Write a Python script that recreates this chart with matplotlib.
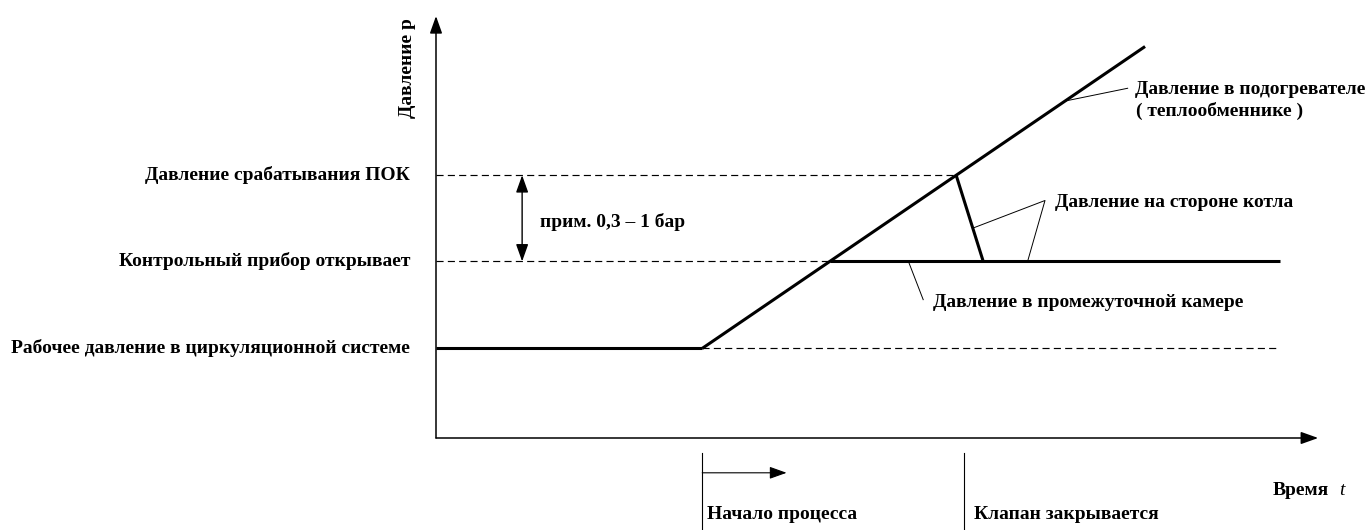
import numpy as np
import matplotlib
matplotlib.use("Agg")
import matplotlib.pyplot as plt

plt.rcParams["font.family"] = ["Liberation Serif", "DejaVu Serif"]

# --- schematic values (time t, pressure p in arbitrary units) ---
P_WORK = 1.03     # рабочее давление
P_OPEN = 2.03     # контрольный прибор открывает
P_SET = 3.02      # давление срабатывания ПОК
T_START = 3.06    # начало процесса
T_HEAT_END = 8.15
P_HEAT_END = 4.50
T_BOILER_END = 6.29
T_VALVE = 6.07    # клапан закрывается
T_LINE_END = 9.70
T_AXIS_END = 10.14
P_AXIS_END = 4.85

level_labels = ["Рабочее давление в циркуляционной системе",
                "Контрольный прибор открывает",
                "Давление срабатывания ПОК"]
level_values = [P_WORK, P_OPEN, P_SET]

# heater line and where it crosses the levels
heat_t = np.array([T_START, T_HEAT_END])
heat_p = np.array([P_WORK, P_HEAT_END])
t_open = np.interp(P_OPEN, heat_p, heat_t)
t_set = np.interp(P_SET, heat_p, heat_t)

# boiler side line (pressure drops after valve closes)
boil_t = np.array([t_set, T_BOILER_END])
boil_p = np.array([P_SET, P_OPEN])

PX = 87.0  # pixels per unit
fig = plt.figure(figsize=(13.68, 5.30), dpi=100)
ax = fig.add_axes([0, 0, 1, 1])
ax.set_xlim(-436 / PX, (1368 - 436) / PX)
ax.set_ylim(-92 / PX, 438 / PX)
ax.axis("off")

thick = dict(color="black", lw=2.2, solid_capstyle="butt")
dash = dict(color="black", lw=0.85, dashes=(6.0, 3.6))
thin = dict(color="black", lw=0.7)
head = "-|>,head_length=0.7,head_width=0.25"
fs = 14

# axes with arrows
ax.annotate("", xy=(0, P_AXIS_END), xytext=(0, 0),
            arrowprops=dict(arrowstyle=head, mutation_scale=15, color="black",
                            lw=1.1, shrinkA=0, shrinkB=0))
ax.annotate("", xy=(T_AXIS_END, 0), xytext=(0, 0),
            arrowprops=dict(arrowstyle=head, mutation_scale=15, color="black",
                            lw=1.1, shrinkA=0, shrinkB=0))

# pressure levels
ax.plot([0, T_START], [P_WORK, P_WORK], **thick)
ax.plot([T_START, T_LINE_END], [P_WORK, P_WORK], **dash)
ax.plot([0, t_open], [P_OPEN, P_OPEN], **dash)
ax.plot([t_open, T_LINE_END], [P_OPEN, P_OPEN], **thick)
ax.plot([0, t_set], [P_SET, P_SET], **dash)

# heater pressure and boiler side
ax.plot(heat_t, heat_p, **thick)
ax.plot(boil_t, boil_p, **thick)

for lbl, val in zip(level_labels, level_values):
    ax.text(-0.30, val, lbl, ha="right", va="center", fontsize=fs, fontweight="bold")

ax.text(-0.333, 4.25, "Давление р", rotation=90, ha="center", va="center",
        fontsize=fs, fontweight="bold")

# 0.3 - 1 bar range
ax.annotate("", xy=(0.99, P_SET), xytext=(0.99, P_OPEN),
            arrowprops=dict(arrowstyle="<|-|>,head_length=0.7,head_width=0.25",
                            mutation_scale=15, color="black", lw=1.0, shrinkA=0, shrinkB=0))
ax.text(1.20, 2.48, "прим. 0,3 – 1 бар", ha="left", va="center", fontsize=fs, fontweight="bold")

# leaders and annotations
t_lead = 7.23
ax.plot([t_lead, 7.95], [np.interp(t_lead, heat_t, heat_p), 4.02], **thin)
ax.text(8.03, 4.00, "Давление в подогревателе", ha="left", va="center", fontsize=fs, fontweight="bold")
ax.text(8.05, 3.76, "( теплообменнике )", ha="left", va="center", fontsize=fs, fontweight="bold")

b_t = 6.17
b_p = np.interp(b_t, boil_t, boil_p)
ax.plot([b_t, 7.0, 6.80], [b_p, 2.73, P_OPEN], **thin)
ax.text(7.11, 2.71, "Давление на стороне котла", ha="left", va="center", fontsize=fs, fontweight="bold")

ax.plot([5.43, 5.60], [P_OPEN, 1.59], **thin)
ax.text(5.71, 1.56, "Давление в промежуточной камере", ha="left", va="center",
        fontsize=fs, fontweight="bold")

# bottom markers
ax.plot([T_START, T_START], [-0.17, -1.2], color="black", lw=0.8)
ax.plot([T_VALVE, T_VALVE], [-0.17, -1.2], color="black", lw=0.8)
ax.annotate("", xy=(4.03, -0.40), xytext=(T_START, -0.40),
            arrowprops=dict(arrowstyle=head, mutation_scale=15, color="black",
                            lw=0.8, shrinkA=0, shrinkB=0))
ax.text(3.11, -0.885, "Начало процесса", ha="left", va="center", fontsize=fs, fontweight="bold")
ax.text(6.18, -0.885, "Клапан закрывается", ha="left", va="center", fontsize=fs, fontweight="bold")
ax.text(9.62, -0.60, "Время", ha="left", va="center", fontsize=fs, fontweight="bold")
ax.text(10.38, -0.60, "t", ha="left", va="center", fontsize=fs, fontstyle="italic")

fig.savefig("out.png", dpi=100)
